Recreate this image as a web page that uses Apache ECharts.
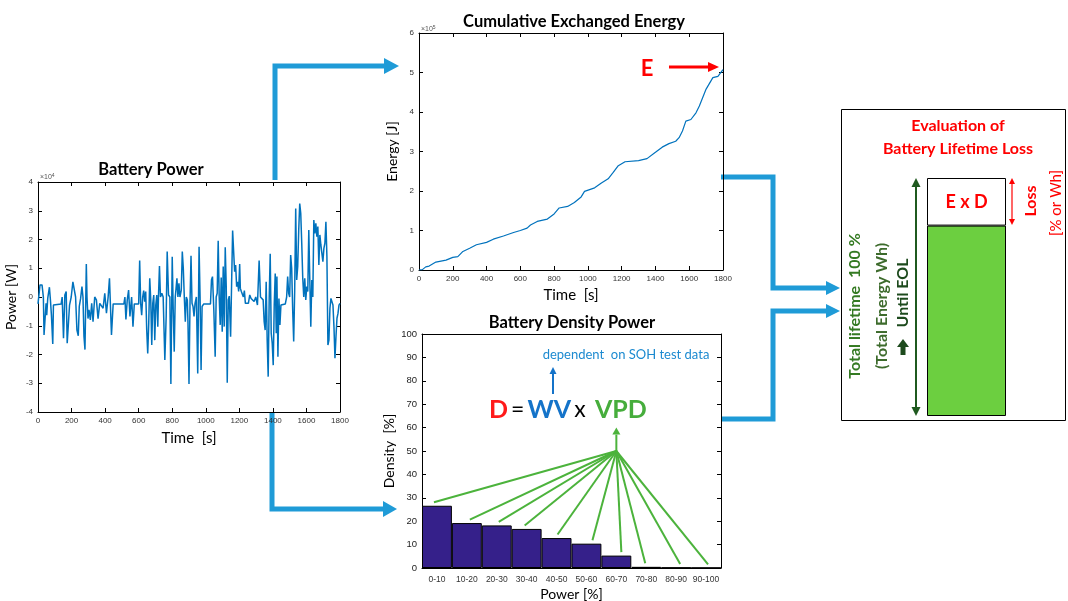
<!DOCTYPE html>
<html>
<head>
<meta charset="utf-8">
<script src="https://cdn.jsdelivr.net/npm/echarts@6/dist/echarts.min.js"></script>
<style>
html,body{margin:0;padding:0;background:#fff;}
#main{width:1068px;height:601px;}
</style>
</head>
<body>
<div id="main"></div>
<script>
// ---- Battery power (units of 1e4 W) ----
const powerTime = [0,12,18,24,32,36,44,48,52,58,68,74,80,88,92,98,138,144,152,160,168,174,182,188,198,208,216,224,232,240,246,254,262,268,274,280,288,292,298,304,312,320,328,338,348,358,368,378,388,398,408,418,426,438,448,512,518,524,532,540,548,558,566,574,600,606,612,618,624,630,636,642,648,654,660,666,672,678,684,690,696,702,708,714,718,724,730,738,746,756,764,770,778,786,792,800,806,812,818,822,828,834,840,846,854,860,866,872,878,884,890,894,900,906,912,918,924,930,936,944,952,960,966,972,978,988,1028,1034,1040,1048,1056,1062,1068,1074,1080,1086,1092,1098,1104,1110,1116,1122,1128,1134,1140,1148,1154,1160,1166,1172,1178,1184,1190,1196,1202,1206,1212,1218,1224,1230,1236,1244,1254,1262,1270,1278,1288,1298,1308,1318,1326,1334,1342,1348,1354,1360,1366,1372,1378,1384,1390,1396,1402,1408,1414,1420,1424,1430,1436,1442,1448,1454,1474,1482,1488,1494,1500,1506,1512,1518,1524,1530,1536,1542,1548,1554,1560,1566,1572,1578,1584,1590,1596,1602,1608,1614,1620,1626,1632,1638,1644,1650,1656,1662,1668,1674,1680,1686,1692,1698,1704,1710,1716,1722,1728,1734,1740,1746,1752,1758,1764,1770,1776,1782,1788,1794,1800];
const powerValue = [-0.24,0.42,0.36,0.42,0,-1.32,-1.32,-0.22,-0.63,-0.05,0.34,-0.1,-0.63,-1.63,-0.28,-0.24,-0.24,0,-1.43,0.07,0.19,-1.61,-0.86,-0.28,0,0.53,0.53,0,-1.15,-1.35,-0.33,-0.05,0.36,0,-1.37,-1.83,1.15,0,-0.75,-0.45,-0.8,-0.22,-0.86,0,-0.1,-0.75,-0.22,-0.16,-0.39,0.13,-0.56,0,0.65,-1.32,-0.24,-0.24,0,-0.78,-0.1,0.24,-0.68,0,-1.03,-0.24,-0.24,1.27,-0.22,-0.63,0,0.22,-0.16,0.19,-1.15,-1.96,-0.92,0.65,-0.1,-1.67,-0.22,0.07,-1.5,-0.28,0.07,-1.03,0,1.08,0,0.13,0,-2.19,-0.68,1.58,0.07,0,-3.03,1.4,-0.45,-1.9,0,0.24,0.65,0,0.48,0,0.24,1.58,1.0,0,-0.86,0,-0.1,-0.92,-3.03,-0.22,1.43,-0.22,-0.33,-0.68,-0.22,0,-2.66,1.75,0,-2.54,-0.33,-0.24,-0.24,0.59,0.71,-0.45,-2.08,0,0.13,1.96,0,-0.97,0.68,-1.21,1.06,-1.03,1.73,0.36,-2.98,-0.1,0.03,-1.38,0.48,2.31,2.27,0.88,1.11,0.36,0.53,0.19,1.15,0.3,0.19,0.24,0,0.22,-0.22,-0.16,-0.22,0.07,-0.05,0,-0.16,0,-0.28,1.27,0,0,-0.1,-0.86,-1.15,0.53,-1.5,-2.77,-0.05,1.5,-1.26,-1.61,-2.37,-0.28,0.82,-1.26,0.71,-2.08,-0.05,-0.97,-0.28,-0.24,-0.24,0,0.71,0.13,0,1.46,1.0,-0.45,-1.55,0.24,3.08,0.59,1.06,2.33,3.25,2.91,1.87,0.65,0,0.65,-0.1,0.36,0.19,2.33,0.59,-1.03,0.59,0,2.68,2.21,2.56,2.1,2.45,1.11,2.16,1.81,1.75,1.23,1.69,1.87,2.62,1.4,-1.67,-1.5,-0.39,-0.05,-0.1,-0.28,-1.03,-2.13,-1.38,-0.74,-0.57,-0.28,-0.22];

// ---- Cumulative exchanged energy (units of 1e5 J) ----
const energyTime = [0,20,40,60,100,160,200,230,260,300,340,400,440,500,560,600,640,660,700,740,760,800,830,880,920,960,980,1040,1080,1120,1150,1180,1220,1300,1350,1400,1440,1480,1520,1540,1560,1580,1610,1640,1660,1700,1740,1770,1800];
const energyValue = [0,0.01,0.08,0.1,0.2,0.25,0.32,0.34,0.47,0.55,0.64,0.7,0.78,0.86,0.95,1.0,1.06,1.14,1.23,1.27,1.29,1.42,1.57,1.61,1.71,1.85,1.99,2.08,2.2,2.31,2.47,2.64,2.74,2.77,2.82,2.98,3.11,3.2,3.26,3.35,3.52,3.77,3.81,3.98,4.15,4.58,4.87,4.9,5.07];

// ---- Battery density power histogram ----
const densityCats = ['0-10','10-20','20-30','30-40','40-50','50-60','60-70','70-80','80-90','90-100'];
const densityValues = [26.6,19.2,18.2,16.7,12.8,10.4,5.3,0.5,0.2,0.1];

// ---- Lifetime bar (%) ----
const lifetimeCats = ['Lifetime'];
const lifetimeRemaining = [80];
const lifetimeLoss = [20];

const FONT = 'Lato';
const LINE_BLUE = '#0072BD';
const ARROW_BLUE = '#1f9bd7';

const chart = echarts.init(document.getElementById('main'), null, {renderer: 'canvas'});

function plain(v) { return String(v); }

function boxAxes(gi, xType, xOpts, yOpts) {
  const tick = {show: true, inside: true, length: 4, lineStyle: {color: '#000', width: 1}};
  const line = {show: true, onZero: false, lineStyle: {color: '#000', width: 1}};
  const xs = [
    Object.assign({gridIndex: gi, type: xType, position: 'bottom', axisLine: line, axisTick: tick, splitLine: {show: false},
      axisLabel: {fontSize: 8, color: '#333', margin: 5, fontFamily: 'Liberation Sans', formatter: plain},
      nameLocation: 'middle', nameTextStyle: {fontSize: 15, color: '#000', fontFamily: FONT}}, xOpts),
    Object.assign({gridIndex: gi, type: xType, position: 'top', axisLine: line, axisTick: tick, splitLine: {show: false},
      axisLabel: {show: false}}, xOpts, {name: '', data: xOpts.data})
  ];
  const ys = [
    Object.assign({gridIndex: gi, type: 'value', position: 'left', axisLine: line, axisTick: tick, splitLine: {show: false},
      axisLabel: {fontSize: 8, color: '#333', margin: 5, fontFamily: 'Liberation Sans', formatter: plain},
      nameLocation: 'middle', nameRotate: 90, nameTextStyle: {fontSize: 14, color: '#000', fontFamily: FONT}}, yOpts),
    Object.assign({gridIndex: gi, type: 'value', position: 'right', axisLine: line, axisTick: tick, splitLine: {show: false},
      axisLabel: {show: false}}, yOpts, {name: ''})
  ];
  return {xs, ys};
}

const a0 = boxAxes(0, 'value', {min: 0, max: 1800, interval: 200, name: 'Time  [s]', nameGap: 19},
                                {min: -4, max: 4, interval: 1, name: 'Power [W]', nameGap: 20});
const a1 = boxAxes(1, 'value', {min: 0, max: 1800, interval: 200, name: 'Time  [s]', nameGap: 18},
                                {min: 0, max: 6, interval: 1, name: 'Energy [J]', nameGap: 20});
const a2 = boxAxes(2, 'category', {data: densityCats, boundaryGap: true, name: 'Power [%]', nameGap: 19},
                                {min: 0, max: 100, interval: 10, name: 'Density  [%]', nameGap: 26});
a2.xs[0].axisTick = {show: false};
a2.xs[1].axisTick = {show: false};
a2.xs[0].axisLabel = {fontSize: 8.5, color: '#333', margin: 7, fontFamily: 'Liberation Sans', interval: 0};
a2.xs[0].nameTextStyle = {fontSize: 14, color: '#000', fontFamily: FONT};
a2.ys[0].axisLabel = {fontSize: 9.5, color: '#222', margin: 5, fontFamily: 'Liberation Sans'};

const xAxes = [...a0.xs, ...a1.xs, ...a2.xs,
  {gridIndex: 3, type: 'category', data: lifetimeCats, show: false}];
const yAxes = [...a0.ys, ...a1.ys, ...a2.ys,
  {gridIndex: 3, type: 'value', min: 0, max: 100, show: false}];

const option = {
  animation: false,
  backgroundColor: '#fff',
  textStyle: {fontFamily: FONT},
  grid: [
    {left: 38, top: 182, width: 302, height: 230, containLabel: false, outerBoundsMode: 'none'},
    {left: 419, top: 33, width: 304, height: 237, containLabel: false, outerBoundsMode: 'none'},
    {left: 422, top: 334, width: 299, height: 234, containLabel: false, outerBoundsMode: 'none'},
    {left: 927, top: 178, width: 79, height: 238, containLabel: false, outerBoundsMode: 'none'}
  ],
  xAxis: xAxes,
  yAxis: yAxes,
  series: [
    {type: 'line', xAxisIndex: 0, yAxisIndex: 0, showSymbol: false, symbol: 'none',
     lineStyle: {color: LINE_BLUE, width: 1.5},
     data: powerTime.map((t, i) => [t, powerValue[i]])},
    {type: 'line', xAxisIndex: 2, yAxisIndex: 2, showSymbol: false, symbol: 'none',
     lineStyle: {color: LINE_BLUE, width: 1.2},
     data: energyTime.map((t, i) => [t, energyValue[i]])},
    {type: 'bar', xAxisIndex: 4, yAxisIndex: 4, barWidth: '100%',
     itemStyle: {color: '#35208a', borderColor: '#000', borderWidth: 1},
     data: densityValues},
    {type: 'bar', xAxisIndex: 6, yAxisIndex: 6, stack: 'life', barWidth: '100%',
     itemStyle: {color: '#6ccf40', borderColor: '#000', borderWidth: 1},
     data: lifetimeRemaining},
    {type: 'bar', xAxisIndex: 6, yAxisIndex: 6, stack: 'life', barWidth: '100%',
     itemStyle: {color: '#fff', borderColor: '#000', borderWidth: 1},
     label: {show: true, position: 'inside', formatter: 'E x D', color: '#ff0000', fontSize: 18, fontWeight: 'bold', fontFamily: FONT},
     data: lifetimeLoss}
  ]
};
chart.setOption(option);

// ---- annotations ----
function txt(x, y, text, style, extra) {
  return Object.assign({type: 'text', x, y, style: Object.assign({text, fontFamily: FONT, align: 'center', verticalAlign: 'middle', fill: '#000'}, style)}, extra || {});
}
function arrowHead(tipX, tipY, dir, len, half, color) {
  let pts;
  if (dir === 'right') pts = [[tipX - len, tipY - half], [tipX, tipY], [tipX - len, tipY + half]];
  else if (dir === 'up') pts = [[tipX - half, tipY + len], [tipX, tipY], [tipX + half, tipY + len]];
  else pts = [[tipX - half, tipY - len], [tipX, tipY], [tipX + half, tipY - len]];
  return {type: 'polygon', shape: {points: pts}, style: {fill: color}};
}
function pline(points, color, w) {
  return {type: 'polyline', shape: {points}, style: {stroke: color, lineWidth: w, fill: null, lineJoin: 'miter'}};
}

const g = [];
// titles
g.push(txt(151, 170, 'Battery Power', {fontSize: 16.5, fontWeight: 'bold'}));
g.push(txt(574, 22, 'Cumulative Exchanged Energy', {fontSize: 16.5, fontWeight: 'bold'}));
g.push(txt(572, 323, 'Battery Density Power', {fontSize: 16.5, fontWeight: 'bold'}));
// exponent labels
g.push({type: 'text', x: 40, y: 177, style: {text: '×10{s|4}', rich: {s: {fontSize: 5, verticalAlign: 'top', fill: '#555'}}, fontSize: 7, fill: '#555', fontFamily: 'Liberation Sans', verticalAlign: 'middle'}});
g.push({type: 'text', x: 421, y: 29, style: {text: '×10{s|5}', rich: {s: {fontSize: 5, verticalAlign: 'top', fill: '#555'}}, fontSize: 7, fill: '#555', fontFamily: 'Liberation Sans', verticalAlign: 'middle'}});

// E arrow
g.push(txt(647, 69, 'E', {fontSize: 22, fontWeight: 'bold', fill: '#ff0000'}));
g.push(pline([[669, 67], [708, 67]], '#ff0000', 3));
g.push(arrowHead(719, 67, 'right', 11, 5, '#ff0000'));

// blue connectors
g.push(pline([[275, 180], [275, 66], [386, 66]], ARROW_BLUE, 5));
g.push(arrowHead(399, 66, 'right', 15, 8, ARROW_BLUE));
g.push(pline([[272, 413], [272, 509], [384, 509]], ARROW_BLUE, 5));
g.push(arrowHead(397, 509, 'right', 14, 8, ARROW_BLUE));
g.push(pline([[721, 177], [773, 177], [773, 288], [828, 288]], ARROW_BLUE, 5));
g.push(arrowHead(840, 288, 'right', 14, 7, ARROW_BLUE));
g.push(pline([[721, 419], [773, 419], [773, 311], [828, 311]], ARROW_BLUE, 5));
g.push(arrowHead(840, 311, 'right', 14, 7, ARROW_BLUE));

// formula
g.push({type: 'text', x: 489, y: 410, style: {
  text: '{r|D} {k|=} {b|WV} {k|x}   {gr|VPD}', fontFamily: FONT, verticalAlign: 'middle', align: 'left',
  rich: {
    r: {fill: '#ff1a1a', fontSize: 25, fontWeight: 'bold', fontFamily: FONT},
    k: {fill: '#000', fontSize: 23, fontFamily: FONT},
    b: {fill: '#1473c9', fontSize: 25, fontWeight: 'bold', fontFamily: FONT},
    gr: {fill: '#46ad3c', fontSize: 25, fontWeight: 'bold', fontFamily: FONT}
  }}});
g.push(txt(626, 355, 'dependent  on SOH test data', {fontSize: 13, fill: '#1c8ad0'}));
g.push(pline([[553, 394], [553, 374]], '#1473c9', 2));
g.push(arrowHead(553, 367, 'up', 7, 3.5, '#1473c9'));

// right box
g.push({type: 'rect', shape: {x: 841.5, y: 109.5, width: 224, height: 311}, style: {fill: null, stroke: '#000', lineWidth: 1}});
g.push(txt(958, 126, 'Evaluation of', {fontSize: 16, fontWeight: 'bold', fill: '#ff0000'}));
g.push(txt(958, 149, 'Battery Lifetime Loss', {fontSize: 16, fontWeight: 'bold', fill: '#ff0000'}));
// green double arrow
g.push(pline([[916, 186], [916, 408]], '#1f5a1f', 2));
g.push(arrowHead(916, 178, 'up', 9, 4.5, '#1f5a1f'));
g.push(arrowHead(916, 416, 'down', 9, 4.5, '#1f5a1f'));
// red double arrow
g.push(pline([[1012, 184], [1012, 219]], '#ff0000', 1.2));
g.push(arrowHead(1012, 178, 'up', 6, 3, '#ff0000'));
g.push(arrowHead(1012, 225, 'down', 6, 3, '#ff0000'));
// rotated labels
g.push(txt(855, 306, 'Total lifetime  100 %', {fontSize: 16, fontWeight: 'bold', fill: '#347a22'}, {rotation: Math.PI / 2}));
g.push(txt(882, 306, '(Total Energy Wh)', {fontSize: 16, fontWeight: 'bold', fill: '#3d6b2c'}, {rotation: Math.PI / 2}));
g.push(txt(903, 293, 'Until EOL', {fontSize: 16, fontWeight: 'bold', fill: '#1d4a1d'}, {rotation: Math.PI / 2}));
g.push({type: 'polygon', shape: {points: [[897, 347], [903, 339], [909, 347], [905.5, 347], [905.5, 355], [900.5, 355], [900.5, 347]]}, style: {fill: '#1d4a1d'}});
g.push(txt(1031, 201, 'Loss', {fontSize: 16, fontWeight: 'bold', fill: '#ff0000'}, {rotation: Math.PI / 2}));
g.push(txt(1056, 203, '[% or Wh]', {fontSize: 15, fill: '#ff0000'}, {rotation: Math.PI / 2}));

// fan lines from (60-70, 50%) to bar tops
const fanOrigin = chart.convertToPixel({xAxisIndex: 4, yAxisIndex: 4}, [6, 50]);
const fanTop = chart.convertToPixel({xAxisIndex: 4, yAxisIndex: 4}, [6, 60]);
const dxs = [-3, 3, 2, -2, 1, 6, 5, -1, 4, 2];
densityValues.forEach((v, i) => {
  const p = chart.convertToPixel({xAxisIndex: 4, yAxisIndex: 4}, [i, v + 1.5]);
  g.push(pline([[fanOrigin[0], fanOrigin[1]], [p[0] + dxs[i], p[1]]], '#4cb33c', 2));
});
g.push(pline([[fanOrigin[0], fanOrigin[1]], [fanOrigin[0], fanTop[1] + 7]], '#4cb33c', 2));
g.push(arrowHead(fanOrigin[0], fanTop[1], 'up', 7, 4, '#4cb33c'));

chart.setOption({graphic: g});
</script>
</body>
</html>
